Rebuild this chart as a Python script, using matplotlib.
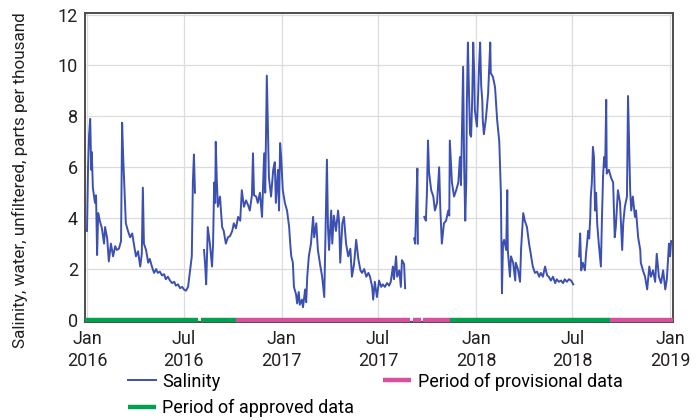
import numpy as np
import pandas as pd
import matplotlib
matplotlib.use("Agg")
import matplotlib.pyplot as plt
from matplotlib.lines import Line2D

plt.rcParams['font.family'] = ['Roboto', 'DejaVu Sans']

start = pd.Timestamp("2016-01-01")

# salinity readings, days since 1 Jan 2016 (None = no record)
sal_days = [
    0, 2, 4, 6, 8, 9, 11, 15, 17, 19, 21, 24, 28, 32, 34, 38, 41, 45, 49, 53,
    56, 60, 64, 66, 68, 70, 73, 77, 81, 85, 88, 92, 96, 100, 103, 105, 107, 111, 115, 118,
    122, 126, 130, 133, 137, 141, 145, 148, 152, 156, 160, 164, 167, 171, 175, 179, 182, 186, 190, 194,
    197, 199, 201, 203, 210,
    220, 222, 224, 226, 227, 231, 235, 237, 239, 241, 242, 244, 246, 250, 254, 257, 261, 265, 269, 273,
    276, 280, 284, 288, 291, 295, 299, 303, 306, 310, 312, 314, 318, 321, 325, 329, 333, 335, 338, 340,
    342, 346, 350, 353, 355, 359, 361, 363, 365, 368, 372, 376, 380, 382, 384, 387, 389, 393, 395, 398,
    400, 404, 406, 410, 412, 414, 417, 421, 425, 427, 431, 434, 438, 442, 446, 447, 451, 453, 455, 459,
    461, 464, 468, 472, 474, 476, 480, 483, 487, 491, 495, 498, 502, 506, 510, 514, 517, 521, 525, 529,
    532, 536, 538, 541, 545, 549, 553, 556, 560, 564, 568, 571, 575, 577, 581, 583, 587, 590, 592, 596,
    598, 606,
    615, 617, 619, 621, 622, 628,
    634, 637, 639, 641, 643, 647, 651, 654, 658, 662, 664, 667, 671, 675, 679, 681, 682, 686, 690, 694,
    698, 701, 703, 707, 709, 711, 713, 714, 716, 718, 720, 722, 724, 726, 728, 729, 733, 735, 737, 739,
    741, 743, 744, 746, 748, 750, 754, 756, 758, 759, 763, 767, 769, 771, 775, 776, 778, 780, 782, 784,
    788, 790, 791, 795, 797, 801, 805, 806, 810, 814, 816, 820, 823, 827, 831, 835, 838, 842, 846, 850,
    853, 857, 861, 865, 868, 872, 876, 880, 883, 887, 891, 895, 898, 902, 906, 910, 914, 920,
    925, 927, 929, 932, 936, 938, 940, 942, 944, 946, 947, 949, 951, 953, 955, 957, 959, 962, 966, 968,
    970, 972, 974, 976, 977, 981, 985, 989, 992, 994, 998, 1002, 1006, 1008, 1011, 1015, 1017, 1019, 1021, 1023,
    1026, 1030, 1032, 1036, 1040, 1041, 1045, 1049, 1053, 1057, 1060, 1064, 1068, 1071, 1075, 1079, 1083, 1087, 1090, 1094,
    1096, 1098,
]
sal_vals = [
    3.5, 6.0, 7.3, 7.9, 5.9, 6.6, 5.2, 4.6, 4.9, 2.55, 4.2, 3.9, 3.6, 3.0, 3.65, 3.2, 2.3, 3.0, 2.5, 2.9,
    2.75, 2.8, 3.1, 7.75, 6.4, 5.4, 3.8, 3.5, 3.25, 3.4, 3.0, 2.5, 2.7, 2.1, 2.6, 5.2, 3.0, 2.75, 2.25, 2.4,
    2.1, 1.85, 2.0, 1.85, 1.9, 1.75, 1.8, 1.6, 1.7, 1.55, 1.45, 1.5, 1.35, 1.4, 1.25, 1.3, 1.2, 1.15, 1.3, 2.0,
    2.5, 5.4, 6.5, 5.0, None,
    2.75, 2.2, 1.4, 2.8, 3.65, 3.0, 2.1, 3.0, 5.4, 4.6, 7.0, 5.5, 4.45, 4.85, 3.65, 3.5, 3.0, 3.25, 3.3, 3.5,
    3.8, 3.6, 4.05, 3.9, 5.1, 4.45, 4.7, 4.5, 4.3, 4.9, 6.55, 4.9, 4.85, 4.6, 5.0, 4.05, 6.55, 5.0, 9.6, 7.6,
    5.6, 4.85, 5.9, 6.2, 4.6, 5.9, 4.3, 6.95, 6.4, 5.1, 4.6, 4.3, 3.65, 3.0, 2.5, 2.25, 1.3, 1.0, 0.65, 1.1,
    0.6, 0.8, 0.5, 1.2, 0.7, 1.7, 2.5, 3.0, 4.05, 3.25, 3.8, 2.75, 2.2, 1.7, 0.9, 2.0, 6.3, 3.65, 2.75, 4.3,
    3.0, 4.1, 3.5, 4.3, 3.8, 2.25, 3.8, 4.05, 3.0, 2.5, 2.8, 1.7, 2.2, 3.15, 2.4, 1.95, 1.85, 2.0, 1.7, 1.85,
    1.7, 1.3, 0.8, 1.5, 0.9, 1.55, 1.3, 1.4, 1.3, 1.45, 1.35, 1.5, 2.1, 1.6, 2.5, 1.7, 1.95, 1.3, 2.35, 2.2,
    1.25, None,
    3.2, 3.0, 4.6, 5.95, 3.0, None,
    4.05, 3.9, 5.0, 7.05, 5.8, 5.1, 4.85, 4.3, 4.6, 6.0, 4.45, 3.0, 3.8, 3.9, 4.3, 4.1, 7.05, 5.4, 4.85, 5.1,
    5.4, 6.4, 5.3, 9.95, 6.0, 3.9, 5.5, 8.5, 10.9, 9.0, 7.3, 7.2, 8.6, 10.9, 9.6, 8.25, 7.6, 8.7, 10.0, 10.9,
    9.2, 8.65, 7.85, 7.3, 7.6, 7.95, 8.9, 9.95, 10.9, 9.7, 9.55, 9.15, 8.5, 7.85, 7.0, 6.3, 5.0, 1.05, 3.0, 3.15,
    2.75, 5.1, 2.75, 1.7, 2.5, 2.25, 1.55, 2.25, 2.0, 1.5, 2.8, 4.2, 3.9, 3.65, 3.0, 2.5, 2.1, 1.85, 1.9, 1.7,
    1.85, 1.7, 2.1, 1.75, 1.7, 1.55, 1.7, 1.45, 1.6, 1.5, 1.55, 1.45, 1.6, 1.5, 1.6, 1.55, 1.4, None,
    2.5, 3.4, 1.95, 2.25, 1.95, 2.6, 3.0, 3.5, 3.2, 4.05, 4.85, 5.4, 6.8, 6.4, 4.3, 5.0, 3.8, 3.0, 2.1, 4.0,
    5.6, 6.4, 6.0, 8.65, 5.75, 5.9, 5.6, 5.4, 3.25, 3.65, 5.1, 4.6, 2.75, 3.8, 4.45, 4.85, 8.8, 7.0, 5.1, 4.3,
    4.85, 4.05, 4.3, 3.25, 2.75, 2.25, 1.95, 1.7, 1.2, 2.1, 1.7, 1.95, 1.5, 2.6, 1.7, 1.45, 1.95, 1.2, 1.6, 3.0,
    2.5, 3.1,
]

# data-status periods, days since 1 Jan 2016
approved_periods = [(-4, 209), (214, 280), (683, 983)]
provisional_periods = [(280, 607), (613, 628), (632, 683), (983, 1102)]

tick_days = [0, 182, 366, 547, 731, 912, 1096]
tick_labels = ["Jan\n2016", "Jul\n2016", "Jan\n2017", "Jul\n2017",
               "Jan\n2018", "Jul\n2018", "Jan\n2019"]

blue = "#3c50b1"
green = "#00a24f"
pink = "#d84f9f"
txt = "#231f20"


def to_dates(days):
    return start + pd.to_timedelta(np.asarray(days, dtype=float), unit="D")


fig = plt.figure(figsize=(7, 4.2), dpi=100)
ax = fig.add_axes([0.1214, 0.2333, 0.84, 0.7357])

vals = np.array([np.nan if v is None else v for v in sal_vals], dtype=float)
ax.plot(to_dates(sal_days), vals, color=blue, lw=1.4, zorder=3)

for a, b in approved_periods:
    ax.plot(to_dates([a, b]), [0, 0], color=green, lw=3.2, solid_capstyle="butt", zorder=4)
for a, b in provisional_periods:
    ax.plot(to_dates([a, b]), [0, 0], color=pink, lw=3.2, solid_capstyle="butt", zorder=4)

ax.set_xlim(start + pd.Timedelta(days=-3.8), start + pd.Timedelta(days=1101.5))
ax.set_ylim(-0.08, 12.06)
ax.set_yticks([0, 2, 4, 6, 8, 10, 12])
ax.set_xticks(list(to_dates(tick_days)))
ax.set_xticklabels(tick_labels, linespacing=1.25)
ax.tick_params(length=0, labelsize=13, colors=txt)
ax.tick_params(axis="x", pad=6)
ax.tick_params(axis="y", pad=5)
ax.grid(True, color="#dcdcdc", lw=0.9)
ax.set_axisbelow(True)
for s in ax.spines.values():
    s.set_color("#4d4d4d")
    s.set_linewidth(1.4)

ax.set_ylabel("Salinity, water, unfiltered, parts per thousand", fontsize=12.3, color=txt)
ax.yaxis.set_label_coords(-0.097, 0.46)

handles = [
    Line2D([], [], color=blue, lw=1.4),
    Line2D([], [], color=green, lw=3.2, solid_capstyle="butt"),
    Line2D([], [], color=pink, lw=3.2, solid_capstyle="butt"),
]
labels = ["Salinity", "Period of approved data", "Period of provisional data"]
fig.legend(handles, labels, loc="upper left", bbox_to_anchor=(0.183, 0.113),
           ncol=2, frameon=False, fontsize=13, handlelength=1.55, handletextpad=0.35,
           columnspacing=1.6, labelspacing=0.45, borderpad=0, borderaxespad=0)

fig.savefig("out.png", dpi=100)
